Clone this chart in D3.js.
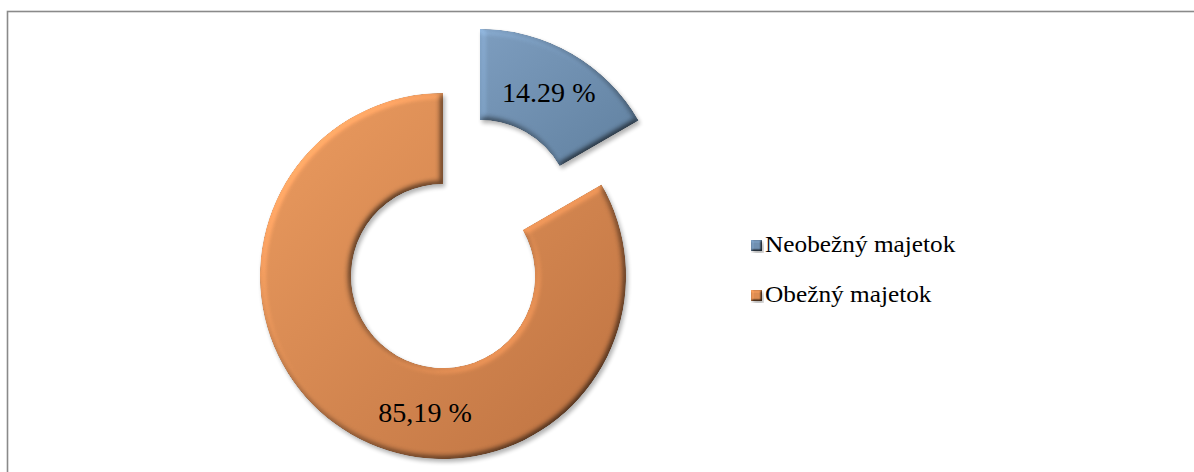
<!DOCTYPE html>
<html>
<head>
<meta charset="utf-8">
<script src="https://cdn.jsdelivr.net/npm/d3@7"></script>
<style>
  body { margin: 0; background: #fff; }
  svg { display: block; }
</style>
</head>
<body>
<div id="chart"></div>
<script>
let width = 1194;
let height = 472;

// slices, in drawing order (clockwise from 12 o'clock)
let categories = ["Neobežný majetok", "Obežný majetok"];
let sliceShares = [16.67, 83.33];          // share of the ring each slice takes
let labelTexts = ["14.29 %", "85,19 %"];   // labels as printed on the chart
let explode = [74, 0];                     // pull-out distance of each slice
let labelAngles = [null, 187.5];           // null = slice centroid, else degrees

let palette = {
    "Neobežný majetok": {light: "#7d9dbf", dark: "#60809f", base: "#7090b1"},
    "Obežný majetok": {light: "#ec9c60", dark: "#bd7241", base: "#dd8c52"}
};

let cx = 443, cy = 276;
let outerR = 183, innerR = 92;

// serif stand-in for Cambria is narrower, so stretch it a bit
let textStretch = 1.1;

let svg = d3.select("#chart")
    .append("svg")
    .attr("width", width)
    .attr("height", height);

// chart frame
svg.append("rect")
    .attr("x", 7.5)
    .attr("y", 11.5)
    .attr("width", width + 10)
    .attr("height", height + 10)
    .attr("fill", "none")
    .attr("stroke", "#8a8a8a")
    .attr("stroke-width", 1.6);

let defs = svg.append("defs");

// bevel + soft shadow, roughly like the office 3D style
function bevelFilter(id, blur, scale) {
    let f = defs.append("filter")
        .attr("id", id)
        .attr("x", "-10%").attr("y", "-10%")
        .attr("width", "125%").attr("height", "125%")
        .attr("color-interpolation-filters", "sRGB");
    f.append("feGaussianBlur").attr("in", "SourceAlpha").attr("stdDeviation", blur).attr("result", "blur");
    f.append("feDiffuseLighting")
        .attr("in", "blur").attr("surfaceScale", scale).attr("diffuseConstant", 1)
        .attr("lighting-color", "#fff").attr("result", "light")
        .append("feDistantLight").attr("azimuth", 225).attr("elevation", 60);
    f.append("feComposite").attr("in", "SourceGraphic").attr("in2", "light")
        .attr("operator", "arithmetic").attr("k1", 1.155).attr("k2", 0).attr("k3", 0).attr("k4", 0)
        .attr("result", "shaded");
    f.append("feComposite").attr("in", "shaded").attr("in2", "SourceAlpha")
        .attr("operator", "in").attr("result", "shadedIn");
    f.append("feGaussianBlur").attr("in", "SourceAlpha").attr("stdDeviation", 2).attr("result", "sb");
    f.append("feOffset").attr("in", "sb").attr("dx", 2).attr("dy", 3).attr("result", "so");
    f.append("feComponentTransfer").attr("in", "so").attr("result", "shadow")
        .append("feFuncA").attr("type", "linear").attr("slope", 0.3);
    let m = f.append("feMerge");
    m.append("feMergeNode").attr("in", "shadow");
    m.append("feMergeNode").attr("in", "shadedIn");
}
bevelFilter("bevel", 3, 3);
bevelFilter("bevelSmall", 1, 2);

categories.forEach(function(c, i) {
    let g = defs.append("linearGradient")
        .attr("id", "grad" + i)
        .attr("x1", "0").attr("y1", "0")
        .attr("x2", "1").attr("y2", "1");
    g.append("stop").attr("offset", "0%").attr("stop-color", palette[c].light);
    g.append("stop").attr("offset", "100%").attr("stop-color", palette[c].dark);
});

let pie = d3.pie()
    .sort(null)
    .value(function(d) { return d.share; });

let data = categories.map(function(c, i) {
    return {name: c, share: sliceShares[i], label: labelTexts[i], explode: explode[i], labelAngle: labelAngles[i], idx: i};
});

let arcs = pie(data);

let arc = d3.arc()
    .innerRadius(innerR)
    .outerRadius(outerR);

function offsetOf(d) {
    let mid = (d.startAngle + d.endAngle) / 2;
    return [Math.sin(mid) * d.data.explode, -Math.cos(mid) * d.data.explode];
}

function stretch(sel) {
    sel.each(function() {
        let w = this.getComputedTextLength();
        d3.select(this)
            .attr("textLength", w * textStretch)
            .attr("lengthAdjust", "spacingAndGlyphs");
    });
}

let slices = svg.append("g")
    .attr("transform", "translate(" + cx + "," + cy + ")");

let sliceG = slices.selectAll(".slice")
    .data(arcs)
    .enter()
    .append("g")
    .attr("class", "slice")
    .attr("transform", function(d) {
        let o = offsetOf(d);
        return "translate(" + o[0] + "," + o[1] + ")";
    });

sliceG.append("path")
    .attr("d", arc)
    .attr("fill", function(d) { return "url(#grad" + d.data.idx + ")"; })
    .attr("filter", "url(#bevel)");

sliceG.append("text")
    .attr("transform", function(d) {
        let p;
        if (d.data.labelAngle === null) {
            p = arc.centroid(d);
        } else {
            let a = d.data.labelAngle * Math.PI / 180;
            let r = (innerR + outerR) / 2;
            p = [Math.sin(a) * r, -Math.cos(a) * r];
        }
        return "translate(" + p[0] + "," + p[1] + ")";
    })
    .attr("dy", "0.35em")
    .attr("text-anchor", "middle")
    .style("font-family", "'Liberation Serif', serif")
    .style("font-size", "27px")
    .attr("fill", "#000")
    .text(function(d) { return d.data.label; })
    .call(function(sel) {
        sel.each(function() {
            let w = this.getComputedTextLength();
            d3.select(this).attr("textLength", w * 1.04).attr("lengthAdjust", "spacingAndGlyphs");
        });
    });

// legend
let legend = svg.append("g")
    .attr("transform", "translate(751,240)");

let legendRow = legend.selectAll(".row")
    .data(categories)
    .enter()
    .append("g")
    .attr("class", "row")
    .attr("transform", function(d, i) { return "translate(0," + (i * 50) + ")"; });

legendRow.append("rect")
    .attr("width", 11)
    .attr("height", 11)
    .attr("fill", function(d) { return palette[d].base; })
    .attr("filter", "url(#bevelSmall)");

legendRow.append("text")
    .attr("x", 14)
    .attr("y", 12)
    .style("font-family", "'Liberation Serif', serif")
    .style("font-size", "23px")
    .attr("fill", "#000")
    .text(function(d) { return d; })
    .call(stretch);
</script>
</body>
</html>
